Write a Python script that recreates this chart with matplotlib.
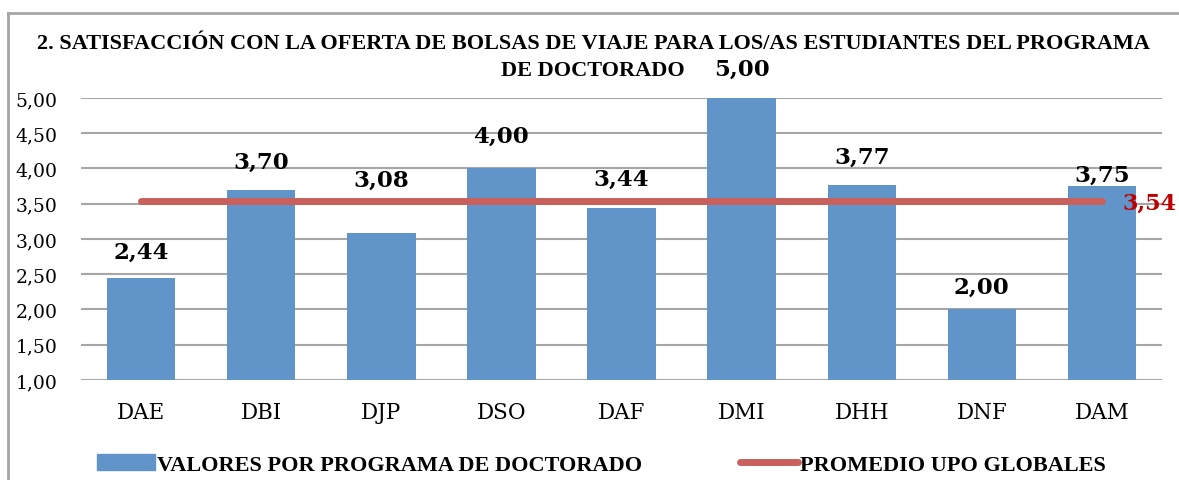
import matplotlib.pyplot as plt
import numpy as np
from matplotlib.lines import Line2D
from matplotlib.patches import Patch

programas = ["DAE", "DBI", "DJP", "DSO", "DAF", "DMI", "DHH", "DNF", "DAM"]
valores = [2.44, 3.70, 3.08, 4.00, 3.44, 5.00, 3.77, 2.00, 3.75]
promedio_upo = 3.54

# desplazamiento vertical de las etiquetas (pixeles sobre la barra)
label_offset = [27, 28, 54, 33, 29, 29, 28, 23, 11]

color_barra = '#6195CA'
color_linea = '#C9605C'
color_grid = '#A6A6A6'

fig = plt.figure(figsize=(11.79, 4.81), dpi=100)
ax = fig.add_axes([0.0687, 0.2079, 0.9169, 0.5863])

x = np.arange(len(programas))
ax.bar(x, valores, width=0.57, color=color_barra, zorder=2, bottom=0)
ax.plot(x, [promedio_upo] * len(x), color=color_linea, lw=5, solid_capstyle='round', zorder=3)

for i, v in enumerate(valores):
    ax.annotate(f"{v:.2f}".replace('.', ','), (i, v), xytext=(0, label_offset[i]),
                textcoords='offset pixels', ha='center', va='center',
                fontsize=16.5, fontweight='bold', family='DejaVu Serif', zorder=4,
                annotation_clip=False)
ax.annotate(f"{promedio_upo:.2f}".replace('.', ','), (x[-1], promedio_upo), xytext=(48, -2),
            textcoords='offset pixels', ha='center', va='center', color='#C00000',
            fontsize=16, fontweight='bold', family='DejaVu Serif', zorder=4,
            annotation_clip=False)

ax.set_ylim(1, 5)
ax.set_xlim(-0.5, len(programas) - 0.5)
ax.set_yticks(np.arange(1, 5.01, 0.5))
ax.set_yticklabels([f"{t:.2f}".replace('.', ',') for t in np.arange(1, 5.01, 0.5)],
                   family='DejaVu Serif', fontsize=13.5)
ax.set_xticks(x)
ax.set_xticklabels(programas, family='DejaVu Serif', fontsize=15.5)
ax.tick_params(length=0)
ax.tick_params(axis='x', pad=15)
ax.tick_params(axis='y', pad=17)
ax.yaxis.grid(True, color=color_grid, lw=1.5, zorder=0)
ax.set_axisbelow(True)
for s in ax.spines.values():
    s.set_visible(False)

fig.text(0.503, 0.908, "2. SATISFACCIÓN CON LA OFERTA DE BOLSAS DE VIAJE PARA LOS/AS ESTUDIANTES DEL PROGRAMA",
         ha='center', va='center', fontsize=16, fontweight='bold', family='Liberation Serif')
fig.text(0.503, 0.852, "DE DOCTORADO", ha='center', va='center', fontsize=16,
         fontweight='bold', family='Liberation Serif')

# borde del grafico
fig.add_artist(Line2D([8 / 1179, 8 / 1179], [0, 1 - 14 / 481], color=color_grid, lw=2))
fig.add_artist(Line2D([8 / 1179, 1], [1 - 14 / 481, 1 - 14 / 481], color=color_grid, lw=2))

handles = [Patch(color=color_barra), Line2D([], [], color=color_linea, lw=5, solid_capstyle='round')]
fig.legend(handles, ["VALORES POR PROGRAMA DE DOCTORADO", "PROMEDIO UPO GLOBALES"],
           loc='center', bbox_to_anchor=(0.51, 0.032), ncol=2, frameon=False,
           prop={'family': 'Liberation Serif', 'weight': 'bold', 'size': 16},
           handlelength=2.6, handletextpad=0.1, columnspacing=4.4)

fig.savefig('out.png', dpi=100)
